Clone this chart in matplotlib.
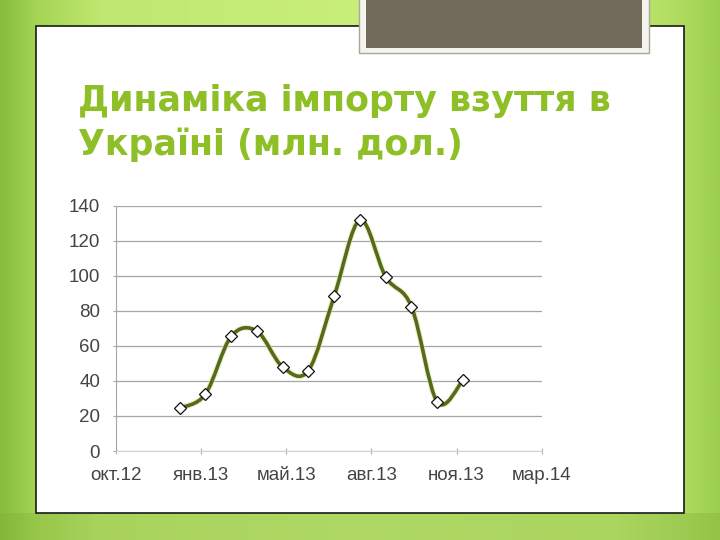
import matplotlib
matplotlib.use('Agg')
import matplotlib.pyplot as plt
import numpy as np
from matplotlib.path import Path
from matplotlib.patches import PathPatch, Rectangle
from matplotlib.colors import LinearSegmentedColormap

# Данные: импорт обуви, млн. долл., помесячно за 2013 год
values = [24.5, 32.5, 65.5, 68.5, 48, 46, 88.5, 132, 99.5, 82.5, 28, 40.5]
tick_labels = ['окт.12', 'янв.13', 'май.13', 'авг.13', 'ноя.13', 'мар.14']
y_ticks = [0, 20, 40, 60, 80, 100, 120, 140]
title_lines = ['Динаміка імпорту взуття в', 'Україні (млн. дол.)']

# положение шкалы x в "месяцах" (янв.13 = 0)
x_first_tick = -2.47
x_step = 3.305

fig = plt.figure(figsize=(7.2, 5.4), dpi=100)

# фон слайда - зелёный градиент
bg = fig.add_axes([0, 0, 1, 1])
bg.set_xlim(0, 720)
bg.set_ylim(540, 0)
bg.axis('off')
grad = LinearSegmentedColormap.from_list('slide', [
    (0.0, '#86bd3b'), (0.05, '#a5d554'), (0.14, '#c0e870'), (0.5, '#c9ef7b'),
    (0.86, '#c2ea72'), (0.95, '#aedb5f'), (1.0, '#9dcf4e')])
bg.imshow(np.linspace(0, 1, 256).reshape(1, -1), cmap=grad, aspect='auto',
          extent=[0, 720, 540, 0], zorder=0)
# нижняя часть слайда темнее
bg.add_patch(Rectangle((0, 513), 720, 30, facecolor='#7fae3a', alpha=0.35,
                       edgecolor='none', zorder=0.5))

# белая панель
bg.add_patch(Rectangle((36, 26), 648, 487, facecolor='white', edgecolor='#1a1a1a',
                       lw=1.2, zorder=1))
# серый блок сверху
bg.add_patch(Rectangle((359, -5), 290, 58, facecolor='#f5f5ef', edgecolor='#a8a898',
                       lw=1.0, zorder=2))
bg.add_patch(Rectangle((366, -5), 276, 53, facecolor='#726a5a', edgecolor='none',
                       zorder=3))

# заголовок
titles = []
for line, base in zip(title_lines, [111, 155]):
    t = fig.text(78 / 720, 1 - base / 540, line, color='#8fbf26', fontsize=25,
                 fontweight='bold', family='DejaVu Sans', va='baseline', ha='left')
    titles.append(t)
fig.canvas.draw()
r = fig.canvas.get_renderer()
w = titles[0].get_window_extent(r).width
scale = 534 / w
for t in titles:
    t.set_fontsize(25 * scale)

# график
ax = fig.add_axes([116 / 720, 1 - 451 / 540, 425.7 / 720, 245 / 540])
ax.set_facecolor('none')
ax.set_ylim(0, 140)
ax.set_yticks(y_ticks)
xt = [x_first_tick + x_step * k for k in range(len(tick_labels))]
ax.set_xlim(xt[0], xt[-1])
ax.set_xticks(xt)
ax.set_xticklabels(tick_labels)
ax.grid(axis='y', color='#a6a6a6', lw=0.9)
ax.set_axisbelow(True)
for s in ['top', 'right']:
    ax.spines[s].set_visible(False)
ax.spines['left'].set_color('#a6a6a6')
ax.spines['bottom'].set_color('#d4d4d4')
ax.tick_params(axis='y', direction='out', length=2.5, color='#a6a6a6', pad=9,
               labelsize=13.5, labelcolor='#444444')
ax.tick_params(axis='x', direction='inout', length=5, color='#b0b0b0', pad=9,
               labelsize=13.5, labelcolor='#444444')
for lab in ax.get_xticklabels() + ax.get_yticklabels():
    lab.set_family('Liberation Sans')

# сглаженная линия (как в Excel)
x = np.arange(len(values), dtype=float)
y = np.array(values, dtype=float)
pts = np.column_stack([x, y])
ext = np.vstack([pts[0], pts, pts[-1]])
verts = [tuple(pts[0])]
codes = [Path.MOVETO]
for i in range(len(pts) - 1):
    p0, p1, p2, p3 = ext[i], ext[i + 1], ext[i + 2], ext[i + 3]
    c1 = p1 + (p2 - p0) / 6
    c2 = p2 - (p3 - p1) / 6
    verts += [tuple(c1), tuple(c2), tuple(p2)]
    codes += [Path.CURVE4] * 3
curve = Path(verts, codes)
ax.add_patch(PathPatch(curve, facecolor='none', edgecolor='#e2e8a0', lw=4.2,
                       alpha=0.6, zorder=3, clip_on=False))
ax.add_patch(PathPatch(curve, facecolor='none', edgecolor='#556a1c', lw=2.6,
                       zorder=4, clip_on=False))
ax.plot(x, y, linestyle='none', marker='D', markersize=6.5, markerfacecolor='white',
        markeredgecolor='#111111', markeredgewidth=0.9, zorder=5, clip_on=False)

fig.savefig('out.png', dpi=100)
